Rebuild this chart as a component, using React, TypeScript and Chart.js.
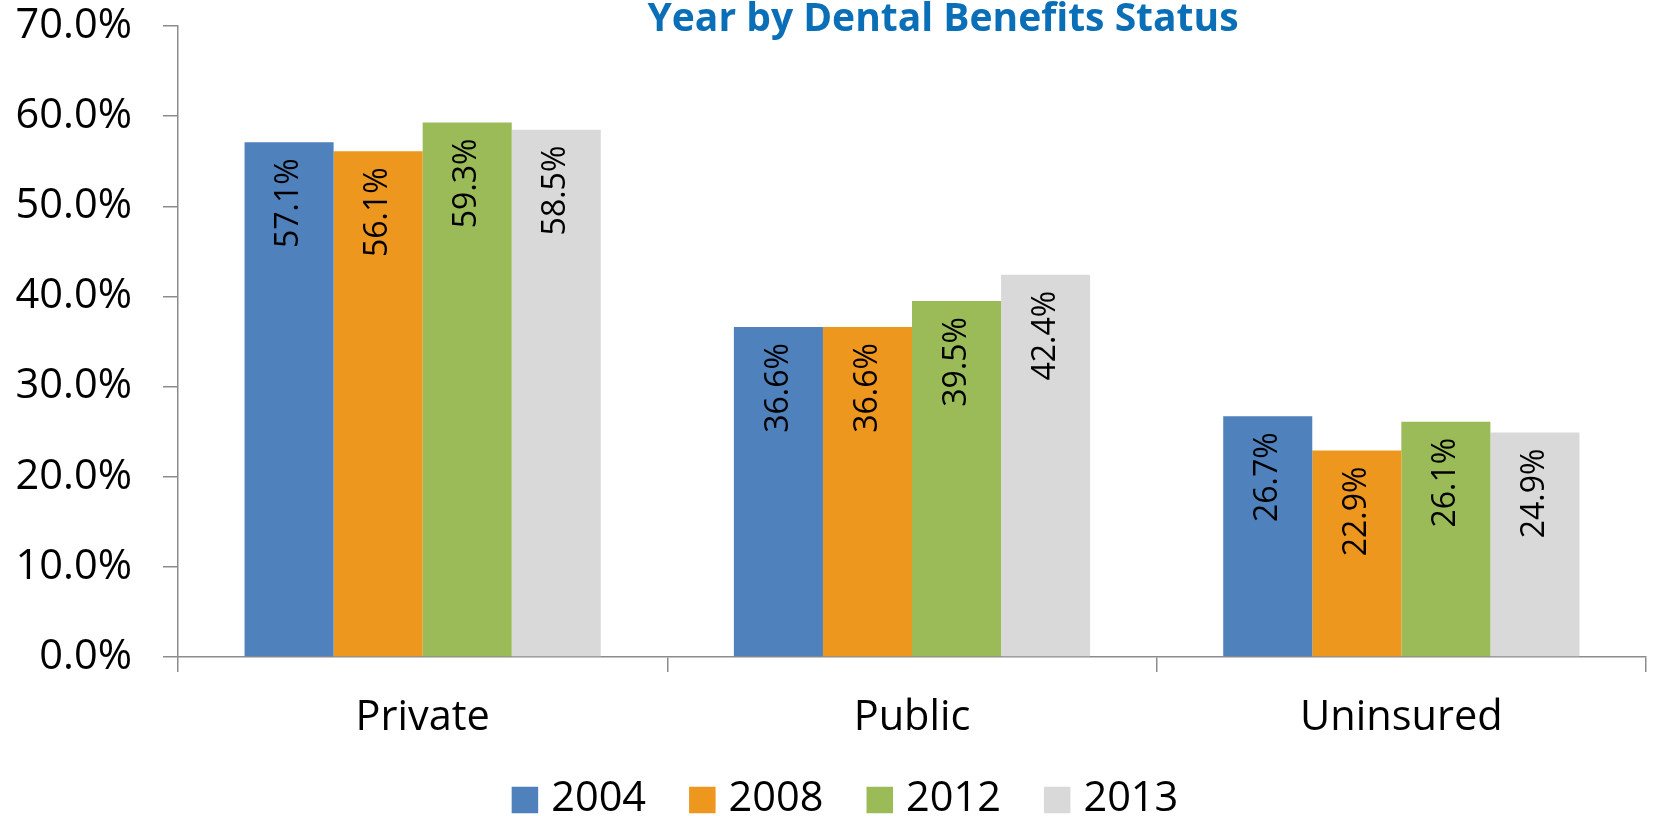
import React, { useEffect, useRef } from 'react';
import { Chart, registerables } from 'chart.js';

Chart.register(...registerables);

const categories = ['Private', 'Public', 'Uninsured'];
const seriesNames = ['2004', '2008', '2012', '2013'];
const values2004 = [57.1, 36.6, 26.7];
const values2008 = [56.1, 36.6, 22.9];
const values2012 = [59.3, 39.5, 26.1];
const values2013 = [58.5, 42.4, 24.9];
const seriesColors = ['#4F81BD', '#EE971F', '#9BBB59', '#D9D9D9'];
const yMin = 0;
const yMax = 70;
const yStep = 10;
const titleText = 'Year by Dental Benefits Status';

const FONT = '"Open Sans", "Liberation Sans", sans-serif';
const AXIS_COLOR = '#8C8C8C';

const titlePlugin = {
  id: 'cutTitle',
  afterDraw(chart: any) {
    const ctx = chart.ctx;
    ctx.save();
    ctx.font = `bold 39px ${FONT}`;
    ctx.fillStyle = '#0B6FB8';
    ctx.textAlign = 'center';
    ctx.textBaseline = 'alphabetic';
    ctx.fillText(titleText, 943, 31);
    ctx.restore();
  },
};

const barLabelPlugin = {
  id: 'barLabels',
  afterDatasetsDraw(chart: any) {
    const ctx = chart.ctx;
    ctx.save();
    ctx.font = `32px ${FONT}`;
    ctx.fillStyle = '#000';
    ctx.textAlign = 'right';
    ctx.textBaseline = 'middle';
    chart.data.datasets.forEach((ds: any, di: number) => {
      const meta = chart.getDatasetMeta(di);
      meta.data.forEach((bar: any, i: number) => {
        const v = ds.data[i] as number;
        ctx.save();
        ctx.translate(bar.x, bar.y + 16);
        ctx.rotate(-Math.PI / 2);
        ctx.fillText(v.toFixed(1) + '%', 0, 0);
        ctx.restore();
      });
    });
    ctx.restore();
  },
};

const legendPlugin = {
  id: 'customLegend',
  afterDraw(chart: any) {
    const ctx = chart.ctx;
    ctx.save();
    ctx.font = `41.5px ${FONT}`;
    ctx.textBaseline = 'middle';
    ctx.textAlign = 'left';
    const box = 26.5;
    const gap = 13;
    const spacing = 43;
    const items = chart.data.datasets.map((ds: any) => ({
      label: ds.label as string,
      color: ds.backgroundColor as string,
      w: box + gap + ctx.measureText(ds.label).width,
    }));
    const total = items.reduce((s: number, it: any) => s + it.w, 0) + spacing * (items.length - 1);
    let x = 845 - total / 2;
    const cy = 799;
    items.forEach((it: any) => {
      ctx.fillStyle = it.color;
      ctx.fillRect(x, cy - box / 2 + 1, box, box);
      ctx.fillStyle = '#000';
      ctx.fillText(it.label, x + box + gap, cy);
      x += it.w + spacing;
    });
    ctx.restore();
  },
};

export default function App() {
  const ref = useRef<HTMLCanvasElement>(null);
  useEffect(() => {
    document.body.style.margin = '0';
    const seriesValues = [values2004, values2008, values2012, values2013];
    const chart = new Chart(ref.current!, {
      type: 'bar',
      data: {
        labels: categories,
        datasets: seriesNames.map((name, i) => ({
          label: name,
          data: seriesValues[i],
          backgroundColor: seriesColors[i],
          borderWidth: 0,
          categoryPercentage: 0.728,
          barPercentage: 1,
        })),
      },
      options: {
        animation: false,
        responsive: false,
        maintainAspectRatio: false,
        layout: { padding: { left: 0, right: 7, top: 26, bottom: 0 } },
        plugins: {
          legend: { display: false },
          title: { display: false },
          tooltip: { enabled: false },
        },
        scales: {
          x: {
            grid: {
              display: true,
              drawOnChartArea: false,
              drawTicks: true,
              tickLength: 15,
              color: AXIS_COLOR,
              lineWidth: 1.5,
              offset: true,
            },
            border: { display: true, color: AXIS_COLOR, width: 1.5 },
            ticks: {
              color: '#000',
              font: { family: FONT, size: 41.5 },
              padding: 21,
              maxRotation: 0,
            },
            afterFit(scale: any) {
              scale.height = 159;
              scale.paddingLeft = 0;
              scale.paddingRight = 0;
            },
          },
          y: {
            min: yMin,
            max: yMax,
            grid: {
              display: true,
              drawOnChartArea: false,
              drawTicks: true,
              tickLength: 15,
              color: AXIS_COLOR,
              lineWidth: 1.5,
            },
            border: { display: true, color: AXIS_COLOR, width: 1.5 },
            ticks: {
              stepSize: yStep,
              color: '#000',
              font: { family: FONT, size: 41.5 },
              padding: 31,
              callback: (v: any) => Number(v).toFixed(1) + '%',
            },
            afterFit(scale: any) {
              scale.width = 178;
              scale.paddingTop = 0;
              scale.paddingBottom = 0;
            },
          },
        },
      },
      plugins: [titlePlugin, barLabelPlugin, legendPlugin],
    });
    return () => chart.destroy();
  }, []);
  return (
    <div style={{ position: 'fixed', left: 0, top: 0, width: 1653, height: 816, background: '#fff' }}>
      <canvas ref={ref} width={1653} height={816} style={{ width: 1653, height: 816, display: 'block' }} />
    </div>
  );
}
